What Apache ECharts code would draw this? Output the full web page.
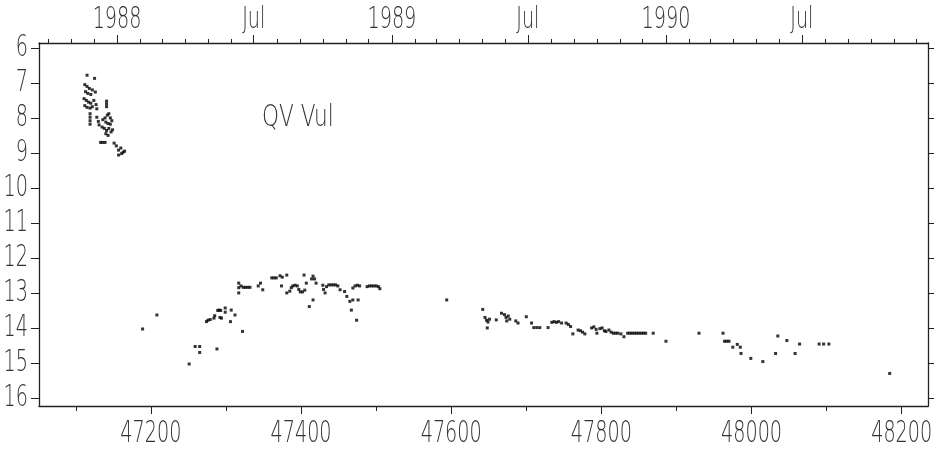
<!DOCTYPE html>
<html lang="en" style="height: 100%">
<head>
<meta charset="UTF-8">
<script src="https://cdn.jsdelivr.net/npm/echarts@6/dist/echarts.min.js"></script>
</head>
<body style="height: 100%; margin: 0; background: #fff">
<div id="container" style="width: 936px; height: 451px"></div>
<script>
// JD - 2400000 vs visual magnitude
var flare88 = [
  [47115,6.78],[47125,6.87],[47112,7.05],[47115,7.1],[47118,7.16],[47122,7.2],[47126,7.26],[47113,7.25],
  [47116,7.3],[47120,7.33],[47111,7.45],[47114,7.5],[47117,7.55],[47120,7.58],[47124,7.5],[47127,7.62],
  [47112,7.65],[47115,7.7],[47119,7.72],[47122,7.68],[47128,7.74],[47141,7.52],[47141,7.6],[47141,7.68],
  [47119,7.88],[47119,7.98],[47119,8.08],[47119,8.18],[47128,7.98],[47130,8.1],[47131,8.2],
  [47136,8.05],[47139,8.0],[47142,7.92],[47144,7.88],[47146,8.0],[47148,8.08],[47140,8.12],[47143,8.16],
  [47146,8.18],[47135,8.26],[47138,8.3],[47141,8.36],[47144,8.3],[47147,8.4],[47149,8.34],[47140,8.45],
  [47143,8.5],[47133,8.7],[47136,8.7],[47139,8.7],[47151,8.72],[47154,8.8],[47157,8.92],[47160,8.86],
  [47163,8.98],[47157,9.06],[47161,9.02],[47165,8.95]
];
var season88 = [
  [47189,14.03],[47208,13.63],[47251,15.03],[47259,14.53],[47265,14.53],[47265,14.7],[47288,14.6],
  [47274,13.82],[47276,13.78],[47279,13.76],[47284,13.72],[47285,13.65],[47289,13.5],[47291,13.49],
  [47293,13.5],[47292,13.7],[47294,13.72],[47299,13.43],[47299,13.55],[47307,13.49],[47312,13.63],
  [47306,13.82],[47322,14.1],[47317,12.72],[47317,12.85],[47317,13.0],[47320,12.8],[47323,12.84],
  [47326,12.84],[47329,12.84],[47332,12.84],[47343,12.8],[47346,12.72],[47349,12.91],
  [47361,12.57],[47364,12.57],[47367,12.57],[47372,12.51],[47375,12.55],[47381,12.49],[47374,12.8],
  [47381,13.0],[47385,12.95],[47387,12.85],[47389,12.8],[47392,12.78],[47395,12.8],[47397,12.9],
  [47399,12.97],[47402,12.97],[47405,12.92],[47404,12.49],[47407,12.72],[47411,13.39],[47416,13.2],
  [47414,12.6],[47416,12.52],[47418,12.6],[47420,12.72],[47429,12.78],[47430,12.9],[47432,13.0],
  [47434,12.82],[47437,12.77],[47440,12.77],[47443,12.77],[47446,12.77],[47449,12.8],[47452,12.91],
  [47458,12.96],[47461,13.1],[47465,13.24],[47469,13.2],[47467,13.49],[47476,13.2],[47474,13.78],
  [47469,12.86],[47472,12.8],[47475,12.78],[47478,12.8],[47488,12.82],[47491,12.8],[47494,12.8],
  [47497,12.8],[47500,12.8],[47503,12.82],[47505,12.88]
];
var season89 = [
  [47594,13.2],[47642,13.47],[47645,13.7],[47647,13.78],[47649,13.83],[47648,14.0],[47651,13.75],
  [47660,13.77],[47667,13.58],[47671,13.62],[47673,13.7],[47674,13.8],[47676,13.66],[47678,13.75],
  [47686,13.8],[47689,13.86],[47700,13.68],[47707,13.86],[47710,13.99],[47714,13.99],[47718,13.99],
  [47729,13.99],[47734,13.84],[47737,13.82],[47740,13.84],[47743,13.82],[47747,13.86],[47753,13.86],
  [47756,13.9],[47759,13.96],[47762,14.17],[47769,14.06],[47772,14.08],[47775,14.12],[47778,14.17],
  [47787,14.0],[47790,13.97],[47793,14.04],[47794,14.15],[47798,14.02],[47801,14.0],[47804,14.08],
  [47806,14.1],[47810,14.06],[47813,14.12],[47816,14.15],[47819,14.15],[47822,14.15],[47826,14.17],
  [47830,14.25],[47835,14.15],[47838,14.15],[47841,14.15],[47844,14.15],[47847,14.15],[47850,14.15],
  [47853,14.15],[47856,14.15],[47859,14.15],[47869,14.15],[47886,14.38]
];
var season90 = [
  [47930,14.15],[47962,14.15],[47964,14.38],[47967,14.38],[47970,14.38],[47975,14.55],[47981,14.47],
  [47985,14.55],[47986,14.73],[47999,14.87],[48015,14.96],[48032,14.73],[48035,14.23],[48047,14.36],
  [48058,14.73],[48064,14.46],[48090,14.46],[48096,14.46],[48103,14.46],[48184,15.3]
];

var jdLabels = [47200, 47400, 47600, 47800, 48000, 48200];
var jdTicks = [47100, 47300, 47500, 47700, 47900, 48100];
var magTicks = [6, 7, 8, 9, 10, 11, 12, 13, 14, 15, 16];
var topLabels = ['1988', 'Jul', '1989', 'Jul', '1990', 'Jul'];
var topLabelDates = [[1988, 0], [1988, 6], [1989, 0], [1989, 6], [1990, 0], [1990, 6]];
var starName = 'QV Vul';

// calendar date -> JD - 2400000 (the printed scale sits ~6 d early)
function jdOf(y, m) { return Date.UTC(y, m, 1) / 86400000 + 40587.5 - 6.5; }
var topMajor = topLabelDates.map(function (d) { return jdOf(d[0], d[1]); });
var topMinor = [];
for (var y = 1987; y <= 1990; y++) {
  for (var m = 0; m < 12; m++) {
    if (m === 0 || m === 6) continue;
    topMinor.push(jdOf(y, m));
  }
}

var xMin = 47051, xMax = 48235;
var yMin = 5.86, yMax = 16.23;
var font = '"DejaVu Sans", sans-serif';
var ink = '#222';

var chart = echarts.init(document.getElementById('container'));

function xTicksAxis(pos, vals, len, line) {
  return {
    type: 'value', position: pos, min: xMin, max: xMax,
    axisLine: { show: line, lineStyle: { color: ink, width: 1.3 } },
    axisTick: { customValues: vals, length: len, lineStyle: { color: ink } },
    axisLabel: { show: false }, splitLine: { show: false }
  };
}
function yTicksAxis(pos, len) {
  return {
    type: 'value', position: pos, inverse: true, min: yMin, max: yMax,
    axisLine: { show: true, lineStyle: { color: ink, width: 1.3 } },
    axisTick: { show: true, customValues: magTicks, length: len, lineStyle: { color: ink } },
    axisLabel: { show: false }, splitLine: { show: false }
  };
}

chart.setOption({
  backgroundColor: '#fff',
  animation: false,
  grid: { left: 39, right: 8, top: 43, bottom: 45, outerBoundsMode: 'none' },
  xAxis: [
    xTicksAxis('bottom', jdLabels, 8, true),
    xTicksAxis('bottom', jdTicks, 5, false),
    xTicksAxis('top', topMajor, 8, true),
    xTicksAxis('top', topMinor, 4, false)
  ],
  yAxis: [yTicksAxis('left', 8), yTicksAxis('right', 6)],
  series: [flare88, season88, season89, season90].map(function (d) {
    return {
      type: 'scatter', xAxisIndex: 0, yAxisIndex: 0, data: d,
      symbol: 'rect', symbolSize: 3,
      itemStyle: { color: '#000' }
    };
  })
});

// the plotter's lettering is tall and narrow: draw it as squeezed text
function label(text, x, y, align, sx) {
  return {
    type: 'text', x: x, y: y, scaleX: sx || 0.64, scaleY: 1,
    style: {
      text: text, font: '200 30px ' + font, fill: '#333',
      align: align || 'center', verticalAlign: 'middle'
    }
  };
}
var g = [];
jdLabels.forEach(function (v) {
  var p = chart.convertToPixel({ gridIndex: 0 }, [v, yMax]);
  g.push(label(String(v), p[0], 434));
});
magTicks.forEach(function (v) {
  var p = chart.convertToPixel({ gridIndex: 0 }, [xMin, v]);
  g.push(label(String(v), 28, p[1], 'right'));
});
topMajor.forEach(function (v, i) {
  var p = chart.convertToPixel({ gridIndex: 0 }, [v, yMin]);
  g.push(label(topLabels[i], p[0], 20));
});
g.push(label(starName, 262, 118, 'left', 0.72));
chart.setOption({ graphic: g });
</script>
</body>
</html>
